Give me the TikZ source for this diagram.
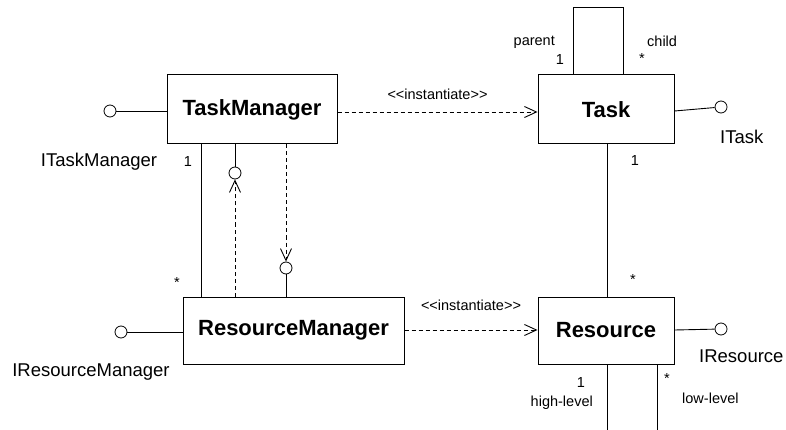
\documentclass[tikz,border=0pt]{standalone}
\usepackage{fontspec}
\setmainfont{Liberation Sans}
\usetikzlibrary{arrows.meta}
\begin{document}
\begin{tikzpicture}[x=1pt,y=-1pt,
  cls/.style={draw,line width=1pt,inner sep=0pt,font=\fontsize{22}{26}\selectfont\bfseries},
  lolli/.style={draw,circle,line width=0.8pt,minimum size=12pt,inner sep=0pt},
  ln/.style={line width=0.9pt},
  dep/.style={line width=0.9pt,dash pattern=on 4pt off 3pt,-{Straight Barb[length=12pt,width=11pt,line width=0.9pt]}},
  small/.style={font=\fontsize{14.5}{17}\selectfont,inner sep=0pt},
  big/.style={font=\fontsize{18.5}{22}\selectfont,inner sep=0pt}]
\useasboundingbox (0,0) rectangle (786,430);
% classes
\node[cls,minimum width=170pt,minimum height=69pt] (tm) at (252,109.5) {TaskManager};
\node[cls,minimum width=136pt,minimum height=69pt] (task) at (606,109.5) {Task};
\node[cls,minimum width=221pt,minimum height=67pt] (rm) at (293.5,330.5) {ResourceManager};
\node[cls,minimum width=136pt,minimum height=67pt] (res) at (606,330.5) {Resource};
% lollipops
\node[lolli] (itm) at (110,111) {};
\node[lolli] (irm) at (121,332) {};
\node[lolli] (itk) at (721,107) {};
\node[lolli] (irs) at (721,329) {};
\draw[ln] (itm) -- (tm.west |- itm);
\draw[ln] (irm) -- (rm.west |- irm);
\draw[ln] (task.east |- 0,111) -- (itk);
\draw[ln] (res.east |- 0,330) -- (irs);
% interface circles between TM and RM
\node[lolli] (c1) at (235,173) {};
\node[lolli] (c2) at (286,268) {};
\draw[ln] (tm.south -| c1) -- (c1);
\draw[dep] (rm.north -| c1) -- (c1.south);
\draw[dep] (tm.south -| c2) -- (c2.north);
\draw[ln] (c2) -- (rm.north -| c2);
% association TM - RM
\coordinate (a1) at (201,0);
\draw[ln] (tm.south -| a1) -- (rm.north -| a1);
% instantiate
\draw[dep] (tm.east |- 0,112) -- (task.west |- 0,112);
\draw[dep] (rm.east |- 0,330) -- (res.west |- 0,330);
% task - resource
\coordinate (a2) at (607,0);
\draw[ln] (task.south -| a2) -- (res.north -| a2);
% self loop
\coordinate (l1) at (573,7);
\coordinate (l2) at (623,7);
\draw[ln] (task.north -| l1) -- (l1) -- (l2) -- (task.north -| l2);
% resource self association (bottom)
\coordinate (b1) at (607,430);
\coordinate (b2) at (657,430);
\draw[ln] (res.south -| b1) -- (b1);
\draw[ln] (res.south -| b2) -- (b2);
% labels
\node[small] (lbi1) at (437.5,94) {<{}<instantiate>{}>};
\node[small] (lbi2) at (471,305) {<{}<instantiate>{}>};
\node[big] (litm) at (99,162) {ITaskManager};
\node[big] (lirm) at (91,372) {IResourceManager};
\node[big,anchor=west] (litk) at (720,137) {ITask};
\node[big,anchor=west] (lirs) at (699,356) {IResource};
\node[small] (m1) at (188,162) {1};
\node[small] (m2) at (177,283) {*};
\node[small,anchor=east] (lpar) at (555,42) {parent};
\node[small] (m3) at (560,60) {1};
\node[small,anchor=west] (lch) at (647,41) {child};
\node[small] (m4) at (642,59) {*};
\node[small] (m5) at (635,161) {1};
\node[small] (m6) at (633,280) {*};
\node[small] (m7) at (581,383) {1};
\node[small,anchor=east] (lhl) at (593,403) {high-level};
\node[small] (m8) at (667,379) {*};
\node[small,anchor=west] (lll) at (682,398) {low-level};
\end{tikzpicture}
\end{document}
